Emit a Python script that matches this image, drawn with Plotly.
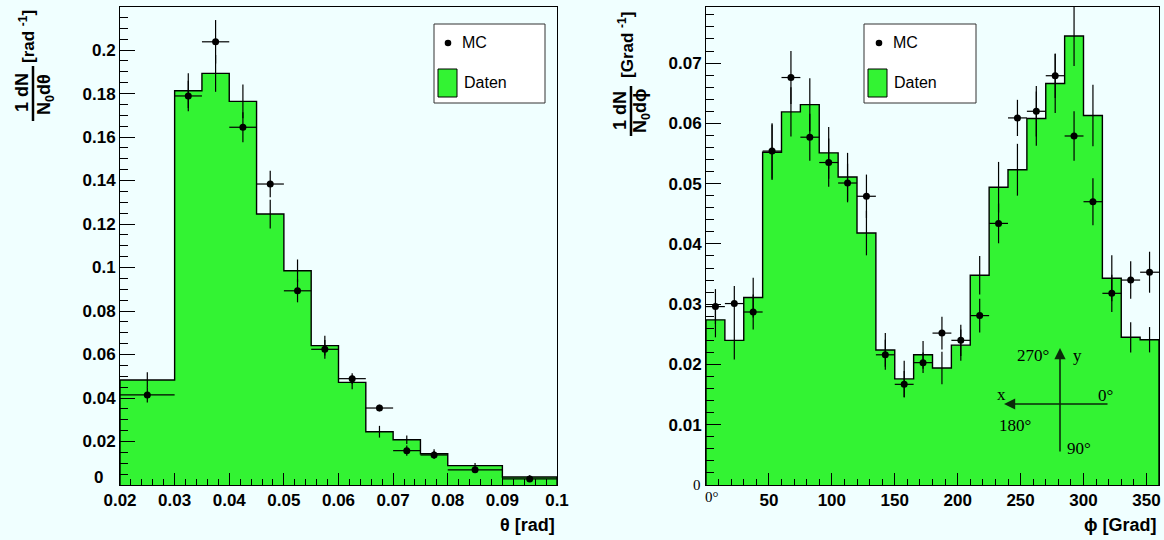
import plotly.graph_objects as go

W, H = 1164, 540

# ---------------- data ----------------
theta_edges = [0.02, 0.03, 0.035, 0.04, 0.045, 0.05, 0.055, 0.06, 0.065, 0.07, 0.075, 0.08, 0.09, 0.1]
theta_daten = [0.0483, 0.1813, 0.1893, 0.1764, 0.1246, 0.0985, 0.0641, 0.0472, 0.0245, 0.0208, 0.0144, 0.0089, 0.0037]
theta_daten_err = [0.0035, 0.0080, 0.0085, 0.0078, 0.0066, 0.0052, 0.0045, 0.0032, 0.0027, 0.0020, 0.0020, 0.0012, 0.0008]
theta_mc = [0.0414, 0.1789, 0.2038, 0.1645, 0.1384, 0.0893, 0.0624, 0.0489, 0.0354, 0.0158, 0.0138, 0.0070, 0.0028]
theta_mc_err = [0.0035, 0.0070, 0.0100, 0.0069, 0.0061, 0.0053, 0.0043, 0.0025, 0.0015, 0.0024, 0.0018, 0.0012, 0.0008]

phi_edges = [0, 15, 30, 45, 60, 75, 90, 105, 120, 135, 150, 165, 180, 195, 210, 225, 240, 255, 270, 285, 300, 315, 330, 345, 360]
phi_daten = [0.0274, 0.0240, 0.0311, 0.0552, 0.0619, 0.0631, 0.0551, 0.0511, 0.0418, 0.0224, 0.0176, 0.0216,
             0.0194, 0.0232, 0.0348, 0.0494, 0.0523, 0.0608, 0.0666, 0.0745, 0.0613, 0.0343, 0.0245, 0.0241]
phi_daten_err = [0.0029, 0.0032, 0.0033, 0.0046, 0.0041, 0.0044, 0.0043, 0.0040, 0.0037, 0.0028, 0.0030, 0.0023,
                 0.0027, 0.0026, 0.0032, 0.0042, 0.0043, 0.0045, 0.0049, 0.0050, 0.0051, 0.0038, 0.0025, 0.0021]
phi_mc = [0.0296, 0.0301, 0.0287, 0.0554, 0.0676, 0.0577, 0.0535, 0.0501, 0.0479, 0.0216, 0.0167, 0.0203,
          0.0252, 0.0240, 0.0281, 0.0434, 0.0609, 0.0620, 0.0679, 0.0579, 0.0470, 0.0318, 0.0340, 0.0353]
phi_mc_err = [0.0029, 0.0029, 0.0029, 0.0046, 0.0044, 0.0039, 0.0040, 0.0032, 0.0036, 0.0025, 0.0022, 0.0017,
              0.0027, 0.0026, 0.0028, 0.0033, 0.0030, 0.0042, 0.0037, 0.0041, 0.0039, 0.0031, 0.0031, 0.0034]

theta_yticks = [0, 0.02, 0.04, 0.06, 0.08, 0.1, 0.12, 0.14, 0.16, 0.18, 0.2]
theta_ylabels = ["", "0.02", "0.04", "0.06", "0.08", "0.1", "0.12", "0.14", "0.16", "0.18", "0.2"]
theta_xticks = [0.02, 0.03, 0.04, 0.05, 0.06, 0.07, 0.08, 0.09, 0.1]
theta_xlabels = ["0.02", "0.03", "0.04", "0.05", "0.06", "0.07", "0.08", "0.09", "0.1"]
phi_xticks = [0, 50, 100, 150, 200, 250, 300, 350]
phi_xlabels = ["", "50", "100", "150", "200", "250", "300", "350"]
phi_yticks = [0.01, 0.02, 0.03, 0.04, 0.05, 0.06, 0.07]
phi_ylabels = ["0.01", "0.02", "0.03", "0.04", "0.05", "0.06", "0.07"]

GREEN = "#33f333"
BG = "#f0ffff"


def px(x):
    return x / W


def py(y):
    return 1 - y / H


def hist_trace(edges, vals, xa, ya):
    hx = [edges[0]] + edges[:-1] + [edges[-1], edges[-1]]
    hy = [0] + vals + [vals[-1], 0]
    return go.Scatter(x=hx, y=hy, mode="lines", line=dict(shape="hv", color="black", width=1.4),
                      fill="tozeroy", fillcolor=GREEN, xaxis=xa, yaxis=ya, hoverinfo="skip",
                      showlegend=False)


def centers(edges):
    return [(edges[i] + edges[i + 1]) / 2 for i in range(len(edges) - 1)]


def halfw(edges):
    return [(edges[i + 1] - edges[i]) / 2 for i in range(len(edges) - 1)]


def err_trace(edges, vals, errs, xa, ya):
    return go.Scatter(x=centers(edges), y=vals, mode="markers",
                      marker=dict(size=1, color="rgba(0,0,0,0)"),
                      error_y=dict(type="data", array=errs, visible=True, color="black", thickness=1.2, width=0),
                      xaxis=xa, yaxis=ya, showlegend=False, hoverinfo="skip")


def mc_trace(edges, vals, errs, xa, ya):
    return go.Scatter(x=centers(edges), y=vals, mode="markers",
                      marker=dict(size=7, color="black"),
                      error_y=dict(type="data", array=errs, visible=True, color="black", thickness=1.2, width=0),
                      error_x=dict(type="data", array=halfw(edges), visible=True, color="black", thickness=1.2, width=0),
                      xaxis=xa, yaxis=ya, showlegend=False)


fig = go.Figure()
fig.add_trace(hist_trace(theta_edges, theta_daten, "x", "y"))
fig.add_trace(err_trace(theta_edges, theta_daten, theta_daten_err, "x", "y"))
fig.add_trace(mc_trace(theta_edges, theta_mc, theta_mc_err, "x", "y"))
fig.add_trace(hist_trace(phi_edges, phi_daten, "x2", "y2"))
fig.add_trace(err_trace(phi_edges, phi_daten, phi_daten_err, "x2", "y2"))
fig.add_trace(mc_trace(phi_edges, phi_mc, phi_mc_err, "x2", "y2"))

TICKFONT = dict(family="Liberation Sans", size=17, color="black", weight="bold")

# panel geometry (pixels)
L_X0, L_X1, TOP, BOT = 120, 557, 7, 485
R_X0, R_X1 = 706, 1159

axis_common = dict(showline=True, linecolor="black", linewidth=1, mirror=True, ticks="inside",
                   tickcolor="black", tickwidth=1, showgrid=False, zeroline=False, tickfont=TICKFONT,
                   automargin=False)


def minor(t0, dt, ln):
    return dict(tickmode="linear", tick0=t0, dtick=dt, ticks="inside", ticklen=ln, tickcolor="black", tickwidth=1)


fig.update_layout(
    width=W, height=H, autosize=False,
    margin=dict(l=0, r=0, t=0, b=0, pad=0),
    paper_bgcolor=BG, plot_bgcolor=BG,
    showlegend=False,
    xaxis=dict(domain=[px(L_X0), px(L_X1)], range=[0.02, 0.1], anchor="y",
               tickmode="array", tickvals=theta_xticks, ticktext=theta_xlabels,
               ticklen=12, minor=minor(0.02, 0.002, 6), **axis_common),
    yaxis=dict(domain=[py(BOT), py(TOP)], range=[0, 0.2198], anchor="x",
               tickmode="array", tickvals=theta_yticks, ticktext=theta_ylabels,
               ticklen=15, minor=minor(0, 0.005, 8), **axis_common),
    xaxis2=dict(domain=[px(R_X0), px(R_X1)], range=[0, 360], anchor="y2",
                tickmode="array", tickvals=phi_xticks, ticktext=phi_xlabels,
                ticklen=12, minor=minor(0, 10, 6), **axis_common),
    yaxis2=dict(domain=[py(BOT), py(TOP)], range=[0, 0.0793], anchor="x2",
                tickmode="array", tickvals=phi_yticks, ticktext=phi_ylabels,
                ticklen=15, minor=minor(0, 0.002, 8), **axis_common),
)

ann = []
shapes = []


def text(x, y, s, size=16, bold=True, family="Liberation Sans", xanchor="center", yanchor="middle", angle=0):
    ann.append(dict(x=px(x), y=py(y), xref="paper", yref="paper", text=s, showarrow=False,
                    xanchor=xanchor, yanchor=yanchor, textangle=angle,
                    font=dict(family=family, size=size, color="black", weight="bold" if bold else "normal")))


# axis titles
text(557, 525, "θ [rad]", size=18, xanchor="right")
text(1159, 525, "ϕ [Grad]", size=18, xanchor="right")

# zero label of the left y axis (kept clear of the 0.02 x label)
text(105, 489, "0", size=17, xanchor="right", yanchor="bottom")

# left y title (fraction, rotated)
text(22, 93, "1 dN", size=18, angle=-90)
text(45, 95, "N<sub>0</sub>dθ", size=18, angle=-90)
shapes.append(dict(type="line", xref="paper", yref="paper", x0=px(33), x1=px(33), y0=py(66), y1=py(121),
                   line=dict(color="black", width=2.5)))
text(27, 37, "[rad <sup>-1</sup>]", size=17, angle=-90)

# right y title
text(620, 111, "1 dN", size=18, angle=-90)
text(642, 111, "N<sub>0</sub>dϕ", size=18, angle=-90)
shapes.append(dict(type="line", xref="paper", yref="paper", x0=px(631), x1=px(631), y0=py(86), y1=py(136),
                   line=dict(color="black", width=2.5)))
text(626, 45, "[Grad <sup>-1</sup>]", size=17, angle=-90)

# serif zero labels on right panel
text(697, 485, "0", size=15, bold=False, family="Liberation Serif")
text(712, 497, "0°", size=15, bold=False, family="Liberation Serif")

# legends
for (bx0, bx1, dotx, mcx, sqx0, sqx1, dx) in [(434, 545, 448, 460, 438, 457, 462),
                                               (864, 976, 879, 891, 868, 887, 892)]:
    shapes.append(dict(type="rect", xref="paper", yref="paper", x0=px(bx0), x1=px(bx1), y0=py(103), y1=py(24),
                       fillcolor="white", line=dict(color="#333333", width=1)))
    shapes.append(dict(type="circle", xref="paper", yref="paper", x0=px(dotx - 3.3), x1=px(dotx + 3.3),
                       y0=py(43 + 3.3), y1=py(43 - 3.3), fillcolor="black", line=dict(color="black", width=0)))
    shapes.append(dict(type="rect", xref="paper", yref="paper", x0=px(sqx0), x1=px(sqx1), y0=py(97), y1=py(69),
                       fillcolor=GREEN, line=dict(color="black", width=1)))
    text(mcx, 43, "MC", size=16, bold=False, xanchor="left")
    text(dx, 83, "Daten", size=16, bold=False, xanchor="left")

# inset coordinate sketch (right panel)
ann.append(dict(x=px(1060), y=py(348), xref="paper", yref="paper", ax=0, ay=105, axref="pixel", ayref="pixel",
                showarrow=True, arrowhead=2, arrowsize=1.4, arrowwidth=1.6, arrowcolor="#0a2a0a", text=""))
ann.append(dict(x=px(1004), y=py(404), xref="paper", yref="paper", ax=105, ay=0, axref="pixel", ayref="pixel",
                showarrow=True, arrowhead=2, arrowsize=1.4, arrowwidth=1.6, arrowcolor="#0a2a0a", text=""))
SERIF = "Liberation Serif"
text(1033, 355, "270°", size=17, bold=False, family=SERIF)
text(1077, 355, "y", size=17, bold=False, family=SERIF)
text(1001, 394, "x", size=17, bold=False, family=SERIF)
text(1105, 395, "0°", size=17, bold=False, family=SERIF)
text(1015, 425, "180°", size=17, bold=False, family=SERIF)
text(1079, 448, "90°", size=17, bold=False, family=SERIF)

fig.update_layout(annotations=ann, shapes=shapes)

page_fix = ("document.body.style.margin='0';document.body.style.padding='0';"
            "document.body.style.overflow='hidden';document.body.style.background='" + BG + "';")
fig.write_html("out.html", post_script=page_fix, config={"displayModeBar": False})
